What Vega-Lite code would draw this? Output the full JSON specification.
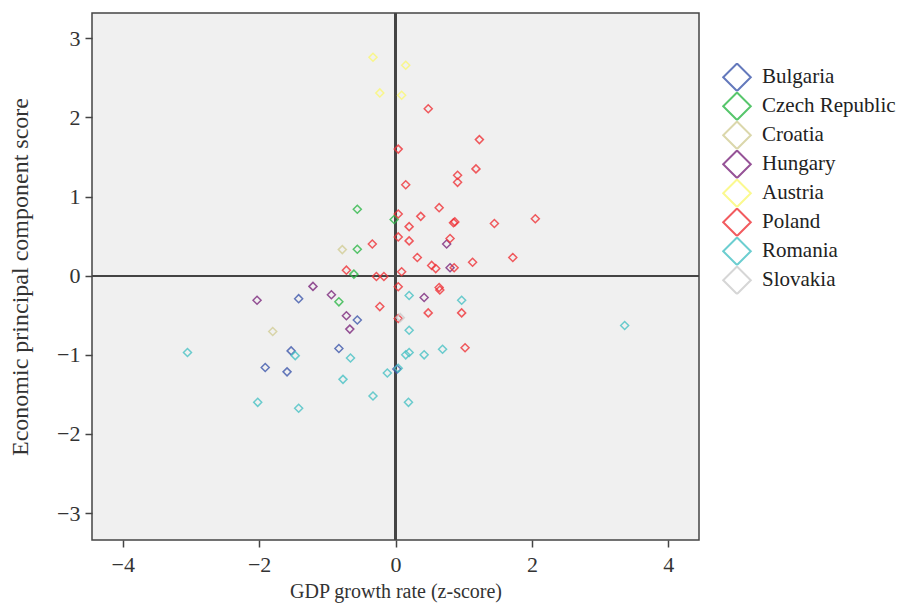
{
  "$schema": "https://vega.github.io/schema/vega-lite/v6.json",
  "autosize": "none",
  "width": 607,
  "height": 527,
  "padding": {"left": 92, "top": 13, "right": 207, "bottom": 70},
  "background": "white",
  "config": {
    "view": {"fill": "#f0f0f0", "stroke": "#444444", "strokeWidth": 1.5},
    "font": "Liberation Serif",
    "axis": {
      "labelFont": "Liberation Serif",
      "titleFont": "Liberation Serif",
      "labelFontSize": 22,
      "titleFontSize": 20,
      "titleFontWeight": "normal",
      "labelColor": "#333333",
      "titleColor": "#333333",
      "tickColor": "#444444",
      "tickSize": 7,
      "tickWidth": 1.5,
      "domain": false,
      "grid": false
    },
    "legend": {
      "labelFont": "Liberation Serif",
      "labelFontSize": 22,
      "labelColor": "#222222"
    }
  },
  "data": {
    "values": [
      {"country": "Bulgaria", "gdp": -1.42, "econ": -0.29},
      {"country": "Bulgaria", "gdp": -0.56, "econ": -0.56},
      {"country": "Bulgaria", "gdp": -1.53, "econ": -0.95},
      {"country": "Bulgaria", "gdp": -0.83, "econ": -0.92},
      {"country": "Bulgaria", "gdp": -1.91, "econ": -1.16},
      {"country": "Bulgaria", "gdp": -1.59, "econ": -1.215},
      {"country": "Bulgaria", "gdp": 0.02, "econ": -1.18},
      {"country": "Czech Republic", "gdp": -0.56, "econ": 0.84},
      {"country": "Czech Republic", "gdp": -0.02, "econ": 0.71},
      {"country": "Czech Republic", "gdp": -0.56, "econ": 0.335},
      {"country": "Czech Republic", "gdp": -0.61, "econ": 0.02},
      {"country": "Czech Republic", "gdp": -0.83, "econ": -0.33},
      {"country": "Croatia", "gdp": -0.78, "econ": 0.33},
      {"country": "Croatia", "gdp": -1.8, "econ": -0.705},
      {"country": "Hungary", "gdp": -2.03, "econ": -0.31},
      {"country": "Hungary", "gdp": -1.21, "econ": -0.135},
      {"country": "Hungary", "gdp": -0.94, "econ": -0.24},
      {"country": "Hungary", "gdp": -0.72, "econ": -0.506},
      {"country": "Hungary", "gdp": -0.67, "econ": -0.675},
      {"country": "Hungary", "gdp": 0.75, "econ": 0.4},
      {"country": "Hungary", "gdp": 0.8, "econ": 0.1},
      {"country": "Hungary", "gdp": 0.42, "econ": -0.275},
      {"country": "Austria", "gdp": -0.33, "econ": 2.76},
      {"country": "Austria", "gdp": 0.15, "econ": 2.66},
      {"country": "Austria", "gdp": -0.23, "econ": 2.31},
      {"country": "Austria", "gdp": 0.09, "econ": 2.28},
      {"country": "Poland", "gdp": 0.48, "econ": 2.11},
      {"country": "Poland", "gdp": 1.23, "econ": 1.72},
      {"country": "Poland", "gdp": 0.04, "econ": 1.6},
      {"country": "Poland", "gdp": 1.18, "econ": 1.35},
      {"country": "Poland", "gdp": 0.91, "econ": 1.27},
      {"country": "Poland", "gdp": 0.91, "econ": 1.18},
      {"country": "Poland", "gdp": 0.15, "econ": 1.15},
      {"country": "Poland", "gdp": 0.64, "econ": 0.86},
      {"country": "Poland", "gdp": 0.04, "econ": 0.78},
      {"country": "Poland", "gdp": 0.37, "econ": 0.75},
      {"country": "Poland", "gdp": 0.85, "econ": 0.67},
      {"country": "Poland", "gdp": 0.87, "econ": 0.68},
      {"country": "Poland", "gdp": 1.45, "econ": 0.66},
      {"country": "Poland", "gdp": 2.05, "econ": 0.72},
      {"country": "Poland", "gdp": 0.2, "econ": 0.62},
      {"country": "Poland", "gdp": 0.04, "econ": 0.49},
      {"country": "Poland", "gdp": 0.2, "econ": 0.44},
      {"country": "Poland", "gdp": 0.8, "econ": 0.47},
      {"country": "Poland", "gdp": -0.34, "econ": 0.4},
      {"country": "Poland", "gdp": 0.32, "econ": 0.23},
      {"country": "Poland", "gdp": 1.72, "econ": 0.23},
      {"country": "Poland", "gdp": 1.13, "econ": 0.17},
      {"country": "Poland", "gdp": 0.53, "econ": 0.13},
      {"country": "Poland", "gdp": 0.59, "econ": 0.09},
      {"country": "Poland", "gdp": 0.86, "econ": 0.1},
      {"country": "Poland", "gdp": -0.72, "econ": 0.07},
      {"country": "Poland", "gdp": 0.09, "econ": 0.05},
      {"country": "Poland", "gdp": -0.28, "econ": -0.01},
      {"country": "Poland", "gdp": -0.17, "econ": -0.01},
      {"country": "Poland", "gdp": 0.04, "econ": -0.14},
      {"country": "Poland", "gdp": 0.64, "econ": -0.15},
      {"country": "Poland", "gdp": 0.65, "econ": -0.18},
      {"country": "Poland", "gdp": -0.23, "econ": -0.39},
      {"country": "Poland", "gdp": 0.48, "econ": -0.47},
      {"country": "Poland", "gdp": 0.97, "econ": -0.47},
      {"country": "Poland", "gdp": 0.04, "econ": -0.54},
      {"country": "Poland", "gdp": 1.02, "econ": -0.91},
      {"country": "Romania", "gdp": -3.05, "econ": -0.97},
      {"country": "Romania", "gdp": -1.47, "econ": -1.01},
      {"country": "Romania", "gdp": -0.66, "econ": -1.04},
      {"country": "Romania", "gdp": -0.77, "econ": -1.31},
      {"country": "Romania", "gdp": -0.12, "econ": -1.23},
      {"country": "Romania", "gdp": 0.04, "econ": -1.17},
      {"country": "Romania", "gdp": -0.33, "econ": -1.52},
      {"country": "Romania", "gdp": -2.02, "econ": -1.6},
      {"country": "Romania", "gdp": -1.42, "econ": -1.675},
      {"country": "Romania", "gdp": 0.19, "econ": -1.6},
      {"country": "Romania", "gdp": 3.36, "econ": -0.63},
      {"country": "Romania", "gdp": 0.2, "econ": -0.25},
      {"country": "Romania", "gdp": 0.97, "econ": -0.31},
      {"country": "Romania", "gdp": 0.2, "econ": -0.69},
      {"country": "Romania", "gdp": 0.2, "econ": -0.97},
      {"country": "Romania", "gdp": 0.15, "econ": -1.0},
      {"country": "Romania", "gdp": 0.42, "econ": -1.0},
      {"country": "Romania", "gdp": 0.69, "econ": -0.93},
      {"country": "Slovakia", "gdp": 0.07, "econ": -0.53}
    ]
  },
  "layer": [
    {
      "mark": {"type": "rule", "color": "#444444", "strokeWidth": 1.5},
      "encoding": {"x": {"datum": 0, "type": "quantitative"}}
    },
    {
      "mark": {"type": "rule", "color": "#444444", "strokeWidth": 1.5},
      "encoding": {"y": {"datum": 0, "type": "quantitative"}}
    },
    {
      "mark": {"type": "point", "shape": "diamond", "size": 64, "strokeWidth": 1.5, "filled": false, "opacity": 0.8},
      "encoding": {
        "x": {
          "field": "gdp", "type": "quantitative",
          "scale": {"domain": [-4.45, 4.45], "nice": false, "zero": false},
          "axis": {"values": [-4, -2, 0, 2, 4], "format": "d", "title": "GDP growth rate (z-score)", "titleFontSize": 20, "titlePadding": 6, "labelPadding": 7}
        },
        "y": {
          "field": "econ", "type": "quantitative",
          "scale": {"domain": [-3.34, 3.32], "nice": false, "zero": false},
          "axis": {"values": [-3, -2, -1, 0, 1, 2, 3], "format": "d", "title": "Economic principal component score", "titleFontSize": 24, "titlePadding": 24, "labelPadding": 5}
        },
        "color": {
          "field": "country", "type": "nominal",
          "scale": {
            "domain": ["Bulgaria", "Czech Republic", "Croatia", "Hungary", "Austria", "Poland", "Romania", "Slovakia"],
            "range": ["#3e58ac", "#2eb848", "#d3ce97", "#7c287d", "#fbf873", "#ef3338", "#48c2c5", "#cccccc"]
          },
          "legend": {
            "title": null,
            "orient": "none",
            "legendX": 630,
            "legendY": 50,
            "symbolType": "diamond",
            "symbolSize": 760,
            "symbolStrokeWidth": 2,
            "symbolOpacity": 0.8,
            "rowPadding": 0,
            "clipHeight": 28.5,
            "labelOffset": 10,
            "labelFontSize": 21
          }
        }
      }
    }
  ]
}
